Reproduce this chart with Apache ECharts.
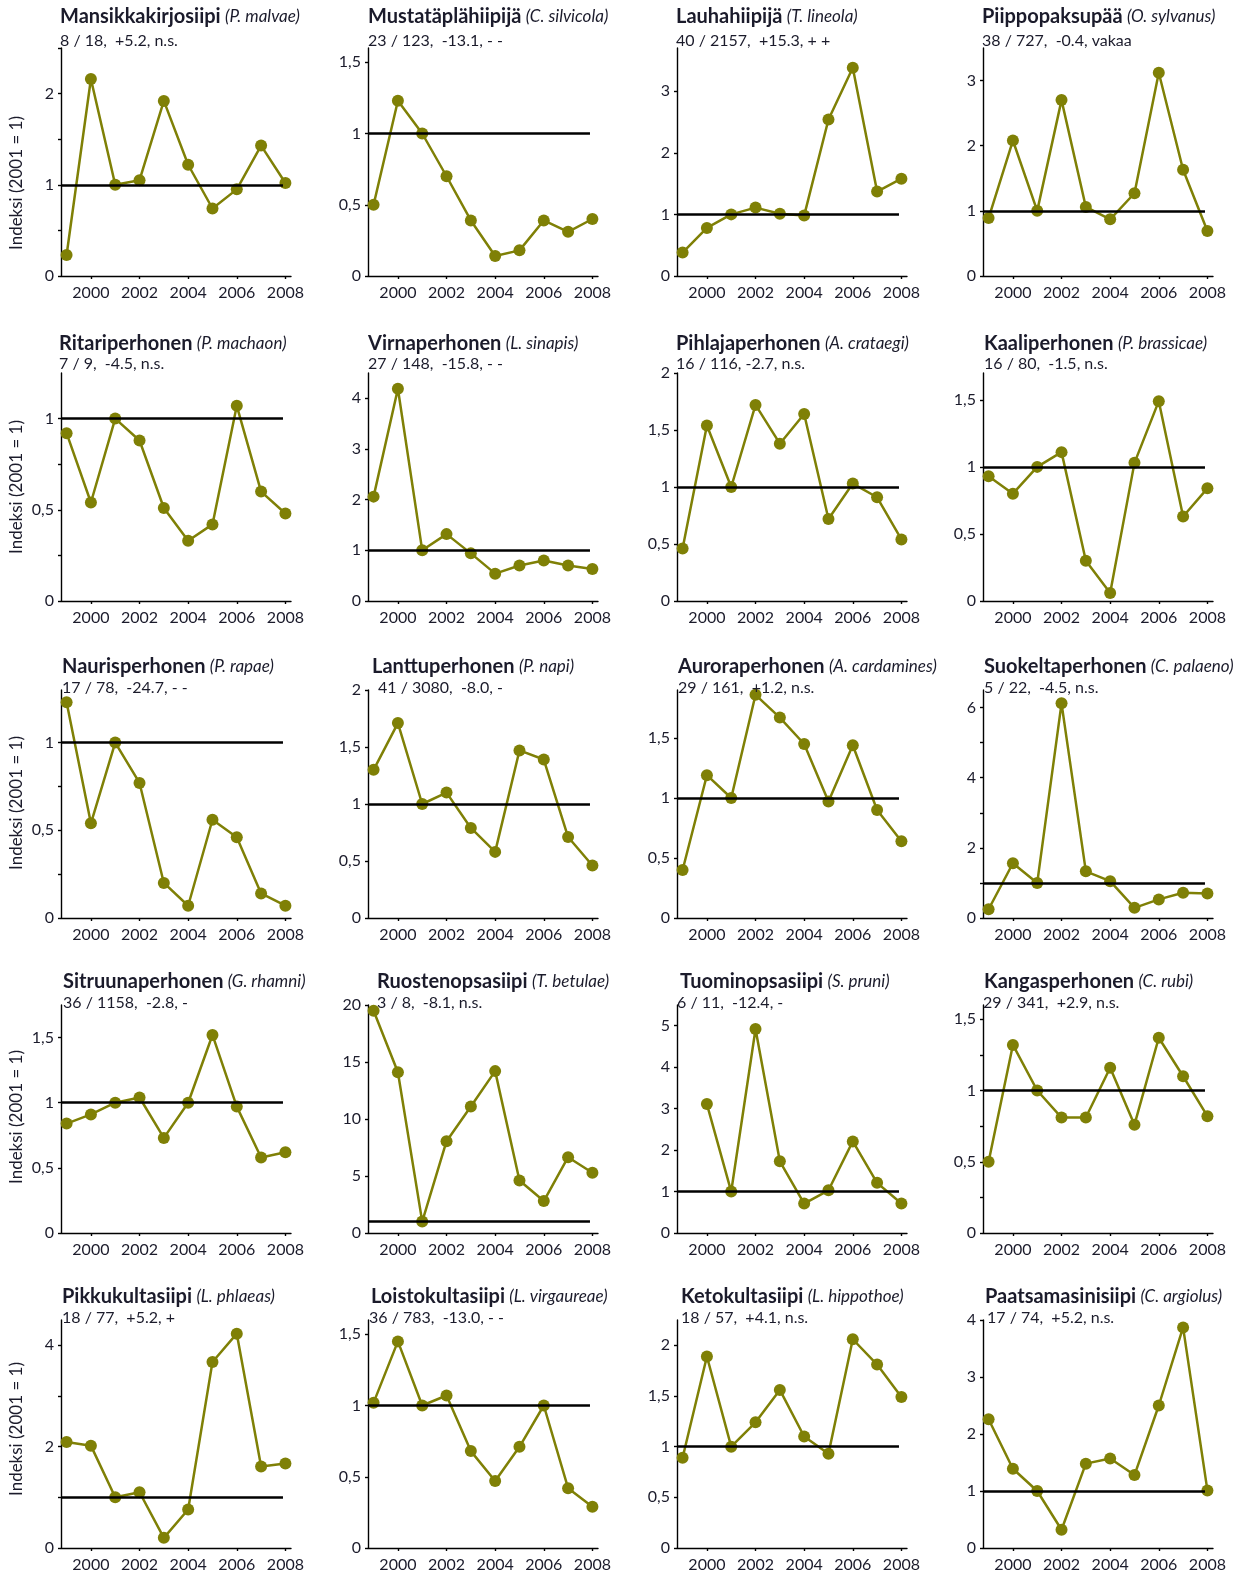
<!DOCTYPE html>
<html>
<head>
<meta charset="utf-8">
<script src="https://cdn.jsdelivr.net/npm/echarts@6/dist/echarts.min.js"></script>
<style>
  body { margin: 0; background: #fff; }
  #main { width: 1260px; height: 1577px; }
</style>
</head>
<body>
<div id="main"></div>
<script>
// vuodet
var years = [1999, 2000, 2001, 2002, 2003, 2004, 2005, 2006, 2007, 2008]
var xTickYears = [2000, 2002, 2004, 2006, 2008]

var names = [
  'Mansikkakirjosiipi', 'Mustatäplähiipijä', 'Lauhahiipijä', 'Piippopaksupää',
  'Ritariperhonen', 'Virnaperhonen', 'Pihlajaperhonen', 'Kaaliperhonen',
  'Naurisperhonen', 'Lanttuperhonen', 'Auroraperhonen', 'Suokeltaperhonen',
  'Sitruunaperhonen', 'Ruostenopsasiipi', 'Tuominopsasiipi', 'Kangasperhonen',
  'Pikkukultasiipi', 'Loistokultasiipi', 'Ketokultasiipi', 'Paatsamasinisiipi'
]
var latin = [
  'P. malvae', 'C. silvicola', 'T. lineola', 'O. sylvanus',
  'P. machaon', 'L. sinapis', 'A. crataegi', 'P. brassicae',
  'P. rapae', 'P. napi', 'A. cardamines', 'C. palaeno',
  'G. rhamni', 'T. betulae', 'S. pruni', 'C. rubi',
  'L. phlaeas', 'L. virgaureae', 'L. hippothoe', 'C. argiolus'
]
var stats = [
  '8 / 18,  +5.2, n.s.', '23 / 123,  -13.1, - -', '40 / 2157,  +15.3, + +', '38 / 727,  -0.4, vakaa',
  '7 / 9,  -4.5, n.s.', '27 / 148,  -15.8, - -', '16 / 116, -2.7, n.s.', '16 / 80,  -1.5, n.s.',
  '17 / 78,  -24.7, - -', '41 / 3080,  -8.0, -', '29 / 161,  +1.2, n.s.', '5 / 22,  -4.5, n.s.',
  '36 / 1158,  -2.8, -', '3 / 8,  -8.1, n.s.', '6 / 11,  -12.4, -', '29 / 341,  +2.9, n.s.',
  '18 / 77,  +5.2, +', '36 / 783,  -13.0, - -', '18 / 57,  +4.1, n.s.', '17 / 74,  +5.2, n.s.'
]

// indeksit (2001 = 1)
var mansikkakirjosiipi = [0.23, 2.16, 1.0, 1.05, 1.92, 1.22, 0.74, 0.95, 1.43, 1.02]
var mustatapla = [0.50, 1.23, 1.0, 0.70, 0.39, 0.14, 0.18, 0.39, 0.31, 0.40]
var lauhahiipija = [0.38, 0.78, 1.0, 1.11, 1.01, 0.98, 2.54, 3.38, 1.37, 1.58]
var piippopaksupaa = [0.89, 2.08, 1.0, 2.70, 1.06, 0.87, 1.27, 3.12, 1.63, 0.69]
var ritariperhonen = [0.92, 0.54, 1.0, 0.88, 0.51, 0.33, 0.42, 1.07, 0.60, 0.48]
var virnaperhonen = [2.06, 4.19, 1.0, 1.32, 0.94, 0.54, 0.70, 0.80, 0.70, 0.63]
var pihlajaperhonen = [0.46, 1.54, 1.0, 1.72, 1.38, 1.64, 0.72, 1.03, 0.91, 0.54]
var kaaliperhonen = [0.93, 0.80, 1.0, 1.11, 0.30, 0.06, 1.03, 1.49, 0.63, 0.84]
var naurisperhonen = [1.23, 0.54, 1.0, 0.77, 0.20, 0.07, 0.56, 0.46, 0.14, 0.07]
var lanttuperhonen = [1.30, 1.71, 1.0, 1.10, 0.79, 0.58, 1.47, 1.39, 0.71, 0.46]
var auroraperhonen = [0.40, 1.19, 1.0, 1.86, 1.67, 1.45, 0.97, 1.44, 0.90, 0.64]
var suokeltaperhonen = [0.25, 1.56, 1.0, 6.12, 1.33, 1.05, 0.29, 0.53, 0.72, 0.70]
var sitruunaperhonen = [0.84, 0.91, 1.0, 1.04, 0.73, 1.0, 1.52, 0.97, 0.58, 0.62]
var ruostenopsasiipi = [19.5, 14.1, 1.0, 8.05, 11.1, 14.2, 4.6, 2.8, 6.65, 5.28]
var tuominopsasiipi = [null, 3.11, 1.0, 4.92, 1.73, 0.71, 1.03, 2.21, 1.21, 0.71]
var kangasperhonen = [0.50, 1.32, 1.0, 0.81, 0.81, 1.16, 0.76, 1.37, 1.10, 0.82]
var pikkukultasiipi = [2.09, 2.02, 1.0, 1.10, 0.20, 0.76, 3.67, 4.23, 1.61, 1.67]
var loistokultasiipi = [1.02, 1.45, 1.0, 1.07, 0.68, 0.47, 0.71, 1.0, 0.42, 0.29]
var ketokultasiipi = [0.89, 1.89, 1.0, 1.24, 1.56, 1.10, 0.93, 2.06, 1.81, 1.49]
var paatsamasinisiipi = [2.26, 1.39, 1.0, 0.32, 1.48, 1.57, 1.28, 2.50, 3.87, 1.01]

var values = [
  mansikkakirjosiipi, mustatapla, lauhahiipija, piippopaksupaa,
  ritariperhonen, virnaperhonen, pihlajaperhonen, kaaliperhonen,
  naurisperhonen, lanttuperhonen, auroraperhonen, suokeltaperhonen,
  sitruunaperhonen, ruostenopsasiipi, tuominopsasiipi, kangasperhonen,
  pikkukultasiipi, loistokultasiipi, ketokultasiipi, paatsamasinisiipi
]

// y-akselien asteikot
var yMax = [2.5, 1.6, 3.7, 3.5, 1.25, 4.5, 2, 1.7, 1.3, 2, 1.9, 6.5, 1.75, 20, 5.5, 1.6, 4.5, 1.6, 2.25, 4]
var yTicks = [
  [0, 0.5, 1, 1.5, 2, 2.5], [0, 0.5, 1, 1.5], [0, 1, 2, 3], [0, 1, 2, 3],
  [0, 0.25, 0.5, 0.75, 1], [0, 1, 2, 3, 4], [0, 0.5, 1, 1.5, 2], [0, 0.5, 1, 1.5],
  [0, 0.25, 0.5, 0.75, 1], [0, 0.5, 1, 1.5, 2], [0, 0.5, 1, 1.5], [0, 1, 2, 3, 4, 5, 6],
  [0, 0.5, 1, 1.5], [0, 5, 10, 15, 20], [0, 1, 2, 3, 4, 5], [0, 0.25, 0.5, 0.75, 1, 1.25, 1.5],
  [0, 1, 2, 3, 4], [0, 0.5, 1, 1.5], [0, 0.5, 1, 1.5, 2], [0, 1, 2, 3, 4]
]
var yLabels = [
  [0, 1, 2], [0, 0.5, 1, 1.5], [0, 1, 2, 3], [0, 1, 2, 3],
  [0, 0.5, 1], [0, 1, 2, 3, 4], [0, 0.5, 1, 1.5, 2], [0, 0.5, 1, 1.5],
  [0, 0.5, 1], [0, 0.5, 1, 1.5, 2], [0, 0.5, 1, 1.5], [0, 2, 4, 6],
  [0, 0.5, 1, 1.5], [0, 5, 10, 15, 20], [0, 1, 2, 3, 4, 5], [0, 0.5, 1, 1.5],
  [0, 2, 4], [0, 0.5, 1, 1.5], [0, 0.5, 1, 1.5, 2], [0, 1, 2, 3, 4]
]

// asettelu
var colLeft = [61, 368, 677, 983]
var rowTop = [48, 373, 690, 1005, 1320]
var gridW = 230
var gridH = 228
var titleY = [17, 344, 667, 982, 1297]
var subY = [41, 364, 688, 1003, 1318]
var nameY = [183, 487, 803, 1117, 1429]
var titleDx = [-1, 0, -1, -1, -2, 0, -1, 1, 1, 4, 1, 1, 2, 9, 3, 1, 1, 3, 4, 2]
var subDx = [-1, 0, -1, -1, -2, 0, -1, 1, 1, 10, 1, 1, 2, 9, 0, 0, 1, 1, 4, 4]
var xMin = 1998.77
var xMax = 2008.23

var green = '#7f8006'
var ink = '#1b1b2b'
var font = 'Lato'

var option = {
  backgroundColor: '#fff',
  animation: false,
  textStyle: { fontFamily: font },
  grid: [],
  xAxis: [],
  yAxis: [],
  series: [],
  title: [],
  graphic: []
}

for (var i = 0; i < values.length; i++) {
  var row = Math.floor(i / 4)
  var col = i % 4
  option.grid.push({
    left: colLeft[col],
    top: rowTop[row],
    width: gridW,
    height: gridH,
    containLabel: false
  })
  option.xAxis.push({
    type: 'value',
    gridIndex: i,
    min: xMin,
    max: xMax,
    axisLine: { show: true, onZero: false, lineStyle: { color: '#000', width: 1.4 } },
    axisTick: { show: true, length: 3, customValues: xTickYears, lineStyle: { color: '#000', width: 1.4 } },
    axisLabel: {
      customValues: xTickYears,
      color: ink,
      fontSize: 16,
      fontFamily: font,
      margin: 9,
      formatter: function (v) { return String(v) }
    },
    splitLine: { show: false }
  })
  option.yAxis.push({
    type: 'value',
    gridIndex: i,
    min: 0,
    max: yMax[i],
    axisLine: { show: true, lineStyle: { color: '#000', width: 1.4 } },
    axisTick: { show: true, length: 3, customValues: yTicks[i], lineStyle: { color: '#000', width: 1.4 } },
    axisLabel: {
      customValues: yLabels[i],
      color: ink,
      fontSize: 16,
      fontFamily: font,
      margin: 7,
      formatter: function (v) { return String(v).replace('.', ',') }
    },
    splitLine: { show: false }
  })
  var pts = []
  for (var k = 0; k < years.length; k++) {
    if (values[i][k] != null) pts.push([years[k], values[i][k]])
  }
  option.series.push({
    type: 'line',
    name: names[i],
    xAxisIndex: i,
    yAxisIndex: i,
    data: pts,
    symbol: 'circle',
    symbolSize: 12,
    lineStyle: { color: green, width: 2.5 },
    itemStyle: { color: green },
    markLine: {
      silent: true,
      symbol: ['none', 'none'],
      label: { show: false },
      lineStyle: { color: '#000', width: 2.5, type: 'solid' },
      data: [[{ coord: [xMin, 1] }, { coord: [2007.9, 1] }]]
    }
  })
  option.title.push({
    left: colLeft[col] + titleDx[i],
    top: titleY[row] - 11,
    padding: 0,
    text: '{b|' + names[i] + '} {it|(' + latin[i] + ')}',
    textStyle: {
      rich: {
        b: { fontFamily: font, fontWeight: 'bold', fontSize: 20, color: ink, lineHeight: 22 },
        it: { fontFamily: font, fontWeight: 'normal', fontStyle: 'italic', fontSize: 17, color: ink, lineHeight: 22 }
      }
    }
  })
  option.title.push({
    left: colLeft[col] + subDx[i],
    top: subY[row] - 9,
    padding: 0,
    text: stats[i],
    textStyle: { fontFamily: font, fontWeight: 'normal', fontSize: 16, color: ink, lineHeight: 18 }
  })
}

for (var r = 0; r < rowTop.length; r++) {
  option.graphic.push({
    type: 'text',
    x: 17,
    y: nameY[r],
    rotation: Math.PI / 2,
    style: {
      text: 'Indeksi (2001 = 1)',
      fontFamily: font,
      fontSize: 17,
      fill: ink,
      textAlign: 'center',
      textVerticalAlign: 'middle'
    }
  })
}

var myChart = echarts.init(document.getElementById('main'))
myChart.setOption(option)
</script>
</body>
</html>
